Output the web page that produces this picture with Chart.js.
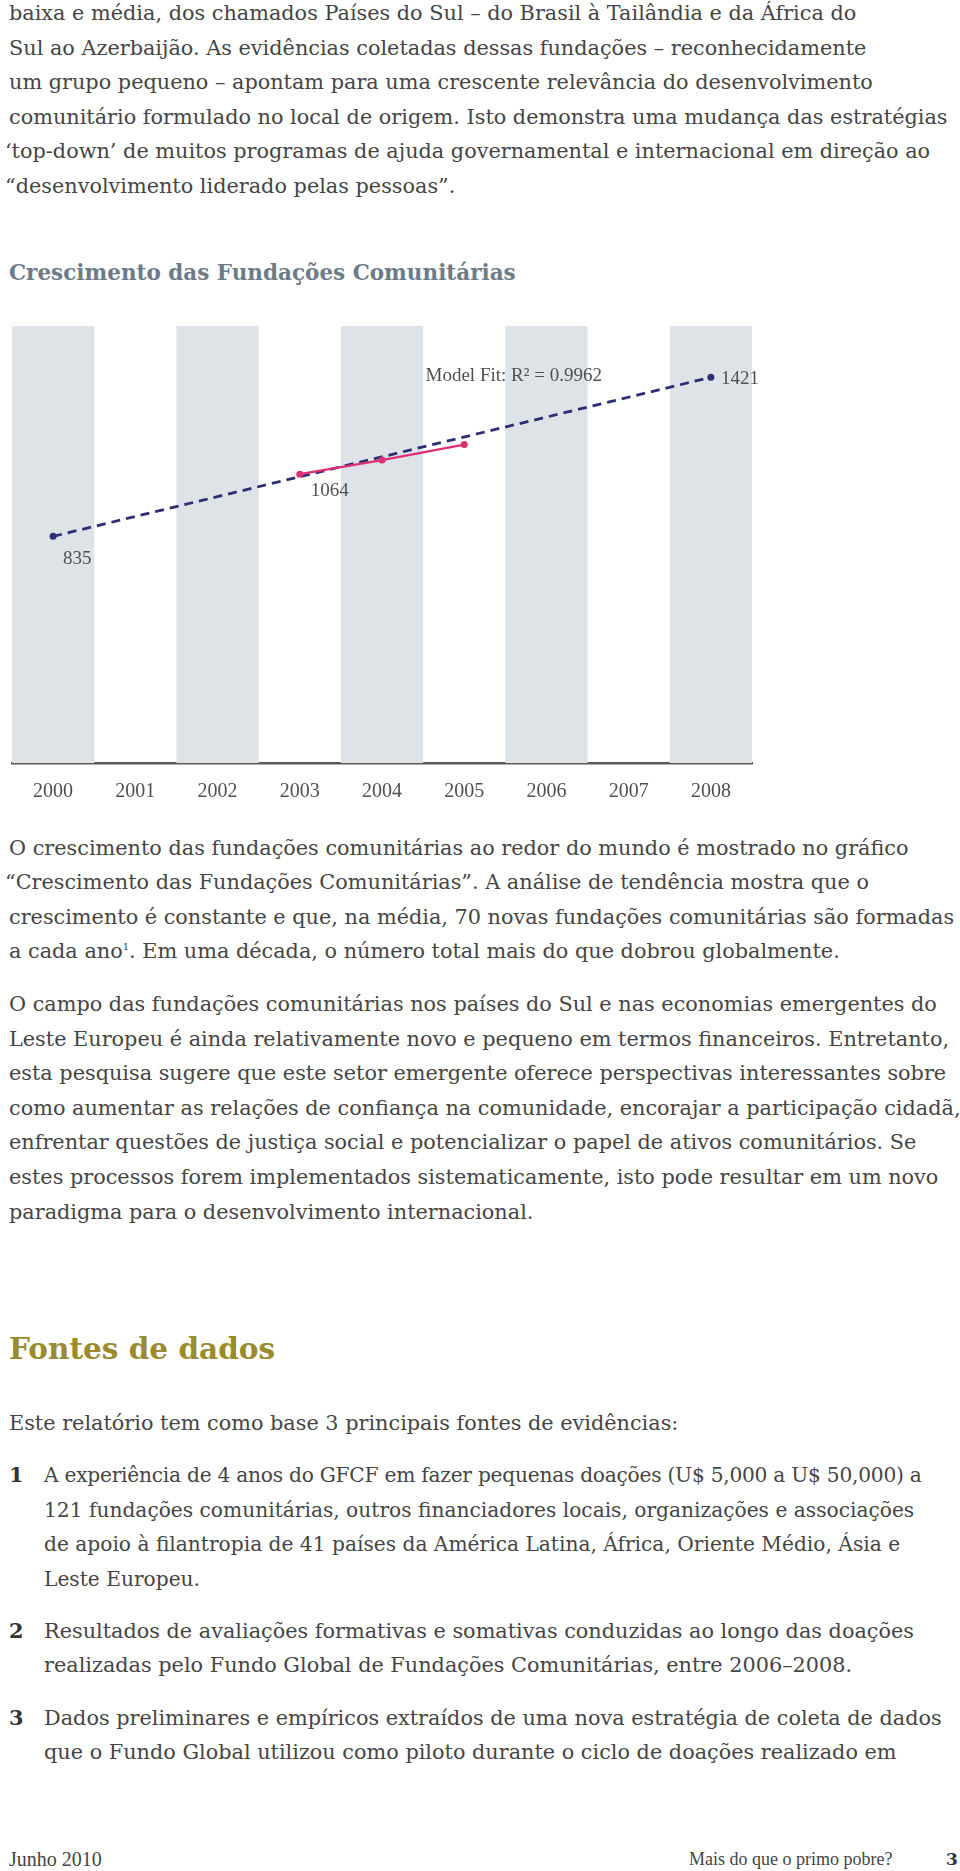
<!DOCTYPE html>
<html lang="pt">
<head>
<meta charset="utf-8">
<title>Crescimento das Fundações Comunitárias</title>
<script src="https://cdn.jsdelivr.net/npm/chart.js@4.4.1/dist/chart.umd.min.js"></script>
<style>
  html, body { margin: 0; padding: 0; background: #fff; }
  body { width: 960px; height: 1871px; position: relative; overflow: hidden;
         font-family: "DejaVu Serif", serif; color: #454545; }
  .blk { position: absolute; left: 9px; font-size: 20.8px; line-height: 34.6px; white-space: nowrap; }
  .blk div { white-space: nowrap; }
  .hang { margin-left: -4px; }
  .h2 { position: absolute; left: 9px; font-weight: bold; white-space: nowrap; }
  .num { position: absolute; left: 9px; font-weight: bold; font-size: 20.8px; line-height: 34.6px; color: #333; }
  .item { position: absolute; left: 44px; font-size: 20.8px; line-height: 34.6px; white-space: nowrap; }
  .item.tight { font-size: 20.2px; }
  .squeeze { letter-spacing: -0.25px; }
  sup { font-size: 10px; line-height: 0; vertical-align: 8px; }
  #chartBox { position: absolute; left: 0; top: 300px; width: 770px; height: 503px; }
  .foot { position: absolute; top: 1846px; font-family: "Liberation Serif", serif; font-size: 18px; line-height: 26px; white-space: nowrap; }
</style>
</head>
<body>

<div class="blk" style="top:-4px">
  <div>baixa e média, dos chamados Países do Sul – do Brasil à Tailândia e da África do</div>
  <div>Sul ao Azerbaijão. As evidências coletadas dessas fundações – reconhecidamente</div>
  <div>um grupo pequeno – apontam para uma crescente relevância do desenvolvimento</div>
  <div>comunitário formulado no local de origem. Isto demonstra uma mudança das estratégias</div>
  <div class="hang">‘top-down’ de muitos programas de ajuda governamental e internacional em direção ao</div>
  <div class="hang">“desenvolvimento liderado pelas pessoas”.</div>
</div>

<div class="h2" style="top:258px; font-size:21.5px; line-height:30px; color:#6c7b87">Crescimento das Fundações Comunitárias</div>

<div id="chartBox"><canvas id="growthChart"></canvas></div>

<div class="blk" style="top:830.5px">
  <div>O crescimento das fundações comunitárias ao redor do mundo é mostrado no gráfico</div>
  <div class="hang">“Crescimento das Fundações Comunitárias”. A análise de tendência mostra que o</div>
  <div>crescimento é constante e que, na média, 70 novas fundações comunitárias são formadas</div>
  <div>a cada ano<sup>1</sup>. Em uma década, o número total mais do que dobrou globalmente.</div>
</div>

<div class="blk" style="top:987px">
  <div>O campo das fundações comunitárias nos países do Sul e nas economias emergentes do</div>
  <div>Leste Europeu é ainda relativamente novo e pequeno em termos financeiros. Entretanto,</div>
  <div>esta pesquisa sugere que este setor emergente oferece perspectivas interessantes sobre</div>
  <div>como aumentar as relações de confiança na comunidade, encorajar a participação cidadã,</div>
  <div>enfrentar questões de justiça social e potencializar o papel de ativos comunitários. Se</div>
  <div>estes processos forem implementados sistematicamente, isto pode resultar em um novo</div>
  <div>paradigma para o desenvolvimento internacional.</div>
</div>

<div class="h2" style="top:1329px; font-size:29.5px; line-height:40px; color:#9a8b2d">Fontes de dados</div>

<div class="blk" style="top:1405.5px">
  <div>Este relatório tem como base 3 principais fontes de evidências:</div>
</div>

<div class="num" style="top:1458px">1</div>
<div class="item tight" style="top:1458px">
  <div class="squeeze">A experiência de 4 anos do GFCF em fazer pequenas doações (U$ 5,000 a U$ 50,000) a</div>
  <div>121 fundações comunitárias, outros financiadores locais, organizações e associações</div>
  <div>de apoio à filantropia de 41 países da América Latina, África, Oriente Médio, Ásia e</div>
  <div>Leste Europeu.</div>
</div>

<div class="num" style="top:1613.5px">2</div>
<div class="item" style="top:1613.5px">
  <div>Resultados de avaliações formativas e somativas conduzidas ao longo das doações</div>
  <div>realizadas pelo Fundo Global de Fundações Comunitárias, entre 2006–2008.</div>
</div>

<div class="num" style="top:1700.5px">3</div>
<div class="item" style="top:1700.5px">
  <div>Dados preliminares e empíricos extraídos de uma nova estratégia de coleta de dados</div>
  <div>que o Fundo Global utilizou como piloto durante o ciclo de doações realizado em</div>
</div>

<div class="foot" style="left:9px; font-size:20px">Junho 2010</div>
<div class="foot" style="left:689px">Mais do que o primo pobre?</div>
<div class="foot" style="left:946px; font-weight:bold; color:#333; font-family:'DejaVu Serif', serif; font-size:17px">3</div>

<script>
// chart data
const years = ['2000', '2001', '2002', '2003', '2004', '2005', '2006', '2007', '2008'];
const trendValues = [835, null, null, null, null, null, null, null, 1421];
const sampleValues = [null, null, null, 1064, 1116, 1173, null, null, null];
const modelFitText = 'Model Fit: R² = 0.9962';

const NAVY = '#2c2f74';
const PINK = '#de2f72';
const LABEL = '#505050';
const FONT = '"Liberation Serif", serif';

// grey bands behind every other year
const bandsPlugin = {
    id: 'bands',
    beforeDatasetsDraw(chart) {
        const { ctx, chartArea, scales: { x } } = chart;
        const w = x.width / years.length;
        ctx.save();
        ctx.fillStyle = '#dee3e8';
        years.forEach((y, i) => {
            if (i % 2) return;
            const cx = x.getPixelForValue(i);
            ctx.fillRect(cx - w / 2, chartArea.top, w, chartArea.bottom - chartArea.top);
        });
        ctx.restore();
    }
};

// value labels and the model fit note
const notesPlugin = {
    id: 'notes',
    afterDatasetsDraw(chart) {
        const { ctx, scales: { x, y } } = chart;
        const notes = [
            { ds: 1, i: 0, dx: 10, dy: 23 },
            { ds: 0, i: 3, dx: 11, dy: 17 },
            { ds: 1, i: 8, dx: 10, dy: 2 }
        ];
        ctx.save();
        ctx.font = '19px ' + FONT;
        ctx.fillStyle = LABEL;
        ctx.textBaseline = 'middle';
        ctx.textAlign = 'left';
        notes.forEach(n => {
            const v = chart.data.datasets[n.ds].data[n.i];
            ctx.fillText(String(v), x.getPixelForValue(n.i) + n.dx, y.getPixelForValue(v) + n.dy);
        });
        const last = trendValues.length - 1;
        ctx.textAlign = 'right';
        ctx.fillText(modelFitText, x.getPixelForValue(last) - 109, y.getPixelForValue(trendValues[last]) - 1);
        ctx.restore();
    }
};

new Chart(document.getElementById('growthChart').getContext('2d'), {
    type: 'line',
    data: {
        labels: years,
        datasets: [
            {
                data: sampleValues,
                borderColor: PINK,
                backgroundColor: PINK,
                borderWidth: 2.2,
                pointRadius: 3.5,
                pointBorderWidth: 0,
                tension: 0
            },
            {
                data: trendValues,
                borderColor: NAVY,
                backgroundColor: NAVY,
                borderWidth: 2.8,
                borderDash: [9, 6],
                pointRadius: 3.5,
                pointBorderWidth: 0,
                spanGaps: true,
                tension: 0
            }
        ]
    },
    options: {
        responsive: true,
        maintainAspectRatio: false,
        animation: false,
        layout: { padding: { top: 26, left: 12, right: 18, bottom: 0 } },
        plugins: { legend: { display: false }, tooltip: { enabled: false } },
        scales: {
            x: {
                offset: true,
                grid: { display: false, drawTicks: false },
                border: { display: true, color: '#5a5a5a', width: 2.5 },
                ticks: { color: LABEL, padding: 17, font: { family: FONT, size: 20 }, maxRotation: 0 },
                afterFit(s) { s.height = 40; }
            },
            y: { display: false, min: 0, max: 1610 }
        }
    },
    plugins: [bandsPlugin, notesPlugin]
});
</script>
</body>
</html>
